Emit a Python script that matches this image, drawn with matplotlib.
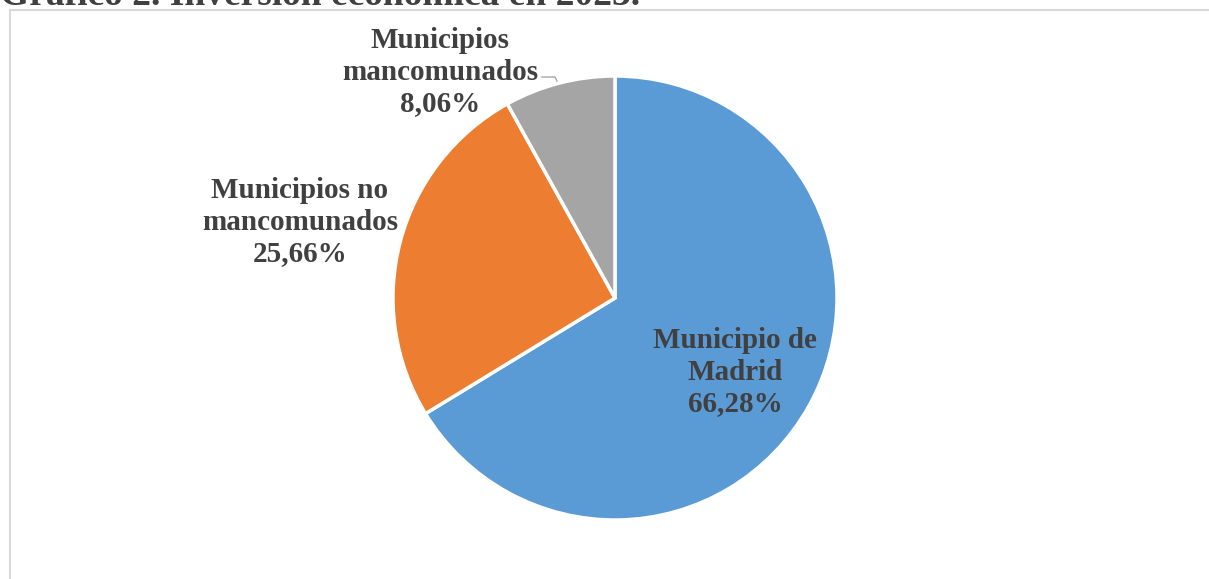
import matplotlib.pyplot as plt
from matplotlib.patches import Rectangle

# datos
categorias = ['Municipio de\nMadrid', 'Municipios no\nmancomunados', 'Municipios\nmancomunados']
porcentajes = [66.28, 25.66, 8.06]
colores = ['#5B9BD5', '#ED7D31', '#A5A5A5']

W, H = 1209, 579

plt.rcParams['font.family'] = ['Liberation Serif', 'DejaVu Serif']

fig = plt.figure(figsize=(W / 100, H / 100), dpi=100)
ax = fig.add_axes([0, 0, 1, 1])

# pie in pixel-like coordinates (y from the bottom)
cx, cy, r = 615, H - 298, 222
ax.pie(porcentajes, colors=colores, startangle=90, counterclock=False,
       center=(cx, cy), radius=r,
       wedgeprops=dict(edgecolor='white', linewidth=2.5))

ax.set_xlim(0, W)
ax.set_ylim(0, H)
ax.set_aspect('equal')
ax.axis('off')

# marco del grafico
ax.add_patch(Rectangle((10, -20), W + 20, H - 10 + 20, fill=False,
                       edgecolor='#d9d9d9', linewidth=1.5, clip_on=False))

# titulo (cortado arriba, como en el original)
ax.text(0, H - 5, 'Gráfico 2. Inversión económica en 2023.', fontsize=27,
        fontweight='bold', color='#404040', ha='left', va='baseline')

# etiquetas
pos_etiquetas = [(735, H - 372), (300, H - 222), (440, H - 72)]
txt_kw = dict(fontsize=21, fontweight='bold', color='#404040',
              ha='center', va='center', linespacing=1.22)
for cat, val, (tx, ty) in zip(categorias, porcentajes, pos_etiquetas):
    etiqueta = cat + '\n' + ('%.2f' % val).replace('.', ',') + '%'
    ax.text(tx, ty, etiqueta, **txt_kw)

# linea guia de la etiqueta pequeña
ax.plot([542, 555, 557], [H - 77, H - 77, H - 81], color='#a6a6a6', linewidth=1)

fig.savefig('out.png', dpi=100)
